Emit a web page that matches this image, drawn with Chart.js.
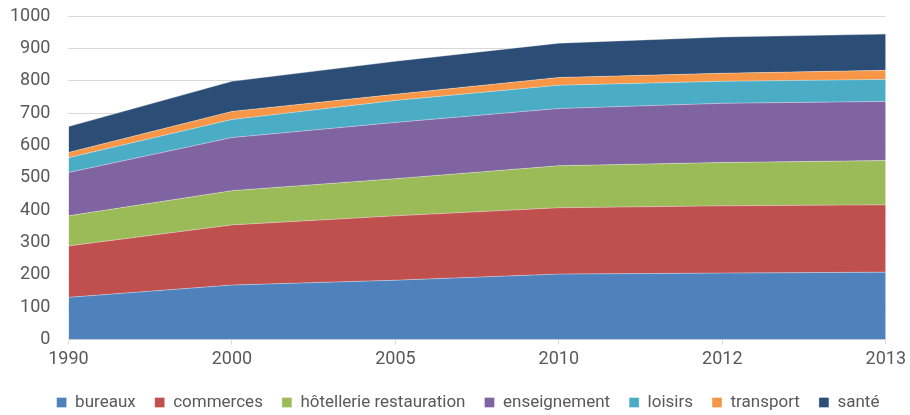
<!DOCTYPE html>
<html>
<head>
<meta charset="utf-8">
<script src="https://cdn.jsdelivr.net/npm/chart.js@4/dist/chart.umd.min.js"></script>
<style>
  html, body { margin: 0; padding: 0; background: #fff; }
  #wrap { width: 910px; height: 415px; }
</style>
</head>
<body>
<div id="wrap"><canvas id="chart"></canvas></div>
<script>
// years (categories)
const years = ["1990", "2000", "2005", "2010", "2012", "2013"];

// series values
const bureaux = [130, 168, 183, 202, 205, 208];
const commerces = [159, 186, 199, 205, 208, 208];
const hotellerie = [93, 106, 115, 130, 134, 137];
const enseignement = [134, 164, 174, 177, 183, 183];
const loisirs = [46, 56, 68, 72, 68, 68];
const transport = [16, 25, 19, 24, 25, 28];
const sante = [80, 93, 102, 106, 112, 112];

const yTicks = [0, 100, 200, 300, 400, 500, 600, 700, 800, 900, 1000];

function area(label, data, color, fill) {
  return {
    label: label,
    data: data,
    backgroundColor: color,
    borderColor: "rgba(255,255,255,0.35)",
    borderWidth: 1,
    pointRadius: 0,
    tension: 0,
    fill: fill
  };
}

// pull the legend a little lower and to the right, like the original
const legendShift = {
  id: "legendShift",
  beforeInit(chart) {
    const fit = chart.legend.fit;
    chart.legend.fit = function () {
      fit.call(this);
      this.height -= 10;
    };
  },
  afterLayout(chart) {
    chart.legend.left += 25;
    chart.legend.right += 25;
  }
};

const ctx = document.getElementById("chart").getContext("2d");
new Chart(ctx, {
  type: "line",
  data: {
    labels: years,
    datasets: [
      area("bureaux", bureaux, "#4f81bd", "origin"),
      area("commerces", commerces, "#c0504d", "-1"),
      area("hôtellerie restauration", hotellerie, "#9bbb59", "-1"),
      area("enseignement", enseignement, "#8064a2", "-1"),
      area("loisirs", loisirs, "#4bacc6", "-1"),
      area("transport", transport, "#f79646", "-1"),
      area("santé", sante, "#2c4d75", "-1")
    ]
  },
  plugins: [legendShift],
  options: {
    responsive: true,
    maintainAspectRatio: false,
    animation: false,
    layout: { padding: { top: 16, right: 24, left: 0, bottom: 4 } },
    plugins: {
      tooltip: { enabled: false },
      legend: {
        position: "bottom",
        labels: {
          boxWidth: 10,
          boxHeight: 10,
          padding: 19,
          color: "#595959",
          font: { family: "Roboto", size: 17 }
        }
      }
    },
    scales: {
      x: {
        offset: false,
        grid: { display: true, drawOnChartArea: false, drawTicks: true, tickLength: 5, color: "#d9d9d9" },
        border: { color: "#d9d9d9" },
        ticks: {
          color: "#595959",
          font: { family: "Roboto", size: 18 },
          maxRotation: 0,
          padding: 4
        },
        afterFit(scale) { scale.height += 1; }
      },
      y: {
        stacked: true,
        min: 0,
        max: 1000,
        afterBuildTicks: function (axis) {
          axis.ticks = yTicks.map(function (v) { return { value: v }; });
        },
        grid: { color: "#d9d9d9", drawTicks: true, tickLength: 16, tickColor: "rgba(0,0,0,0)" },
        border: { display: false },
        ticks: {
          color: "#595959",
          font: { family: "Roboto", size: 18 },
          padding: 2,
          callback: function (v) { return String(v); }
        },
        afterFit(scale) { scale.width += 8; }
      }
    }
  }
});
</script>
</body>
</html>
